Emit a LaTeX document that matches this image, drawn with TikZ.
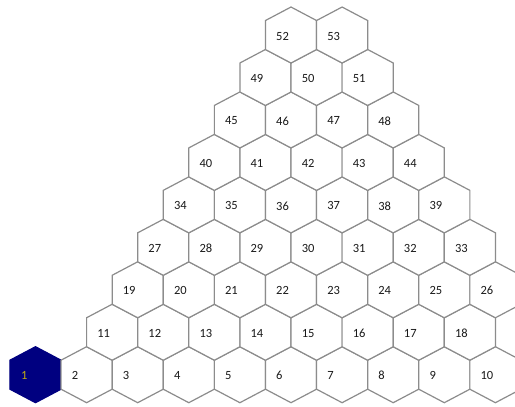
\documentclass[tikz,border=0pt]{standalone}
\usepackage{fontspec}
\setmainfont{Carlito}
\definecolor{edgegray}{RGB}{140,140,140}
\definecolor{hexnavy}{RGB}{0,0,128}
\definecolor{labelgold}{RGB}{190,170,20}
\tikzset{
  hexcell/.style={draw=edgegray, line width=1.2pt, fill=white, line join=miter},
  hexstart/.style={draw=hexnavy, fill=hexnavy, line width=1.2pt, line join=miter},
  hexlabel/.style={anchor=west, inner sep=0pt, font=\fontsize{12.5}{13}\selectfont, text=black!90},
  hexshape/.style={insert path={(0,-28) -- (25.55,-14.5) -- (25.55,14.5) -- (0,28) -- (-25.55,14.5) -- (-25.55,-14.5) -- cycle}}
}
\begin{document}
\begin{tikzpicture}[x=1pt, y=-1pt]
\useasboundingbox (0,0) rectangle (515,407);
\clip (0,0) rectangle (515,407);
\fill[white] (0,0) rectangle (515,407);
% first (highlighted) cell
\path[hexstart, shift={(35.5,374.7)}] [hexshape];
\node[hexlabel, text=labelgold] (h1) at (35.5-14.5,375.7) {1};
% remaining cells: row / first column / last column / first label
\foreach \r/\cmin/\cmax/\start in {1/1/9/2, 2/1/8/11, 3/1/8/19, 4/1/7/27, 5/1/6/34, 6/1/5/40, 7/1/4/45, 8/1/3/49, 9/1/2/52} {
  \foreach \c in {\cmin,...,\cmax} {
    \pgfmathsetmacro\hx{35.5+(\r-1)*25.55+\c*51.1}
    \pgfmathsetmacro\hy{374.7-(\r-1)*42.46}
    \pgfmathtruncatemacro\hn{\start+\c-\cmin}
    \path[hexcell, shift={(\hx,\hy)}] [hexshape];
    \node[hexlabel] (h\hn) at (\hx-15,\hy+1) {\hn};
  }
}
\end{tikzpicture}
\end{document}
